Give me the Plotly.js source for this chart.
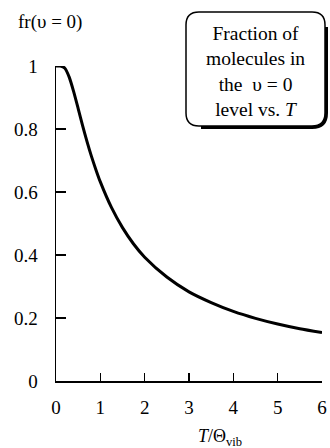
<!DOCTYPE html>
<html>
<head>
<meta charset="utf-8">
<script src="https://cdn.plot.ly/plotly-3.0.1.min.js"></script>
<style>
html,body{margin:0;padding:0;background:#fff;}
#chart{width:330px;height:448px;}
</style>
</head>
<body>
<div id="chart"></div>
<script>
// Data: T/Theta_vib vs fraction in v=0
var ratioT = [0, 0.1, 0.2, 0.3, 0.4, 0.5, 0.6, 0.7, 0.8, 0.9, 1.0, 1.25, 1.5, 1.75, 2.0, 2.5, 3.0, 3.5, 4.0, 4.5, 5.0, 5.5, 6.0];
var fracV0 = [1.0, 1.0, 0.993, 0.964, 0.918, 0.865, 0.811, 0.760, 0.713, 0.671, 0.632, 0.551, 0.487, 0.435, 0.393, 0.330, 0.283, 0.249, 0.221, 0.199, 0.181, 0.166, 0.154];
var xTicks = [0, 1, 2, 3, 4, 5, 6];
var yTicks = [0, 0.2, 0.4, 0.6, 0.8, 1];
var yTickText = ['0', '0.2', '0.4', '0.6', '0.8', '1'];

var W = 330, H = 448;
var M = {l: 56, r: 8, t: 66, b: 67};
var pw = W - M.l - M.r, ph = H - M.t - M.b;
function px(x){ return (x - M.l) / pw; }
function py(y){ return (H - M.b - y) / ph; }

var FONT = 'Liberation Serif, Times New Roman, serif';

// rounded box
var bx0 = 186, bx1 = 325, by0 = 12, by1 = 126, r = 13;
function roundedPath(x0, x1, y0, y1, rr){
  return 'M ' + px(x0 + rr) + ' ' + py(y0) +
    ' L ' + px(x1 - rr) + ' ' + py(y0) +
    ' Q ' + px(x1) + ' ' + py(y0) + ' ' + px(x1) + ' ' + py(y0 + rr) +
    ' L ' + px(x1) + ' ' + py(y1 - rr) +
    ' Q ' + px(x1) + ' ' + py(y1) + ' ' + px(x1 - rr) + ' ' + py(y1) +
    ' L ' + px(x0 + rr) + ' ' + py(y1) +
    ' Q ' + px(x0) + ' ' + py(y1) + ' ' + px(x0) + ' ' + py(y1 - rr) +
    ' L ' + px(x0) + ' ' + py(y0 + rr) +
    ' Q ' + px(x0) + ' ' + py(y0) + ' ' + px(x0 + rr) + ' ' + py(y0) + ' Z';
}
function shadowPath(x0, x1, y0, y1, rr, d){
  return 'M ' + px(x1 + d) + ' ' + py(y0 + rr + 2) +
    ' L ' + px(x1 + d) + ' ' + py(y1 - rr) +
    ' Q ' + px(x1 + d) + ' ' + py(y1 + d) + ' ' + px(x1 - rr) + ' ' + py(y1 + d) +
    ' L ' + px(x0 + rr + 2) + ' ' + py(y1 + d);
}

var data = [{
  x: ratioT, y: fracV0, type: 'scatter', mode: 'lines',
  line: {color: '#000', width: 3, shape: 'spline', smoothing: 0.6},
  hoverinfo: 'skip', cliponaxis: false
}];

var layout = {
  width: W, height: H,
  margin: M,
  paper_bgcolor: '#fff', plot_bgcolor: '#fff',
  showlegend: false,
  font: {family: FONT, size: 19, color: '#000'},
  xaxis: {
    range: [0, 6], tickvals: xTicks, ticktext: xTicks.map(String),
    showline: true, linecolor: '#000', linewidth: 1.5,
    ticks: 'inside', ticklen: 8, tickwidth: 1.2, tickcolor: '#000',
    ticklabelstandoff: 9,
    showgrid: false, zeroline: false, fixedrange: true,
    tickfont: {family: FONT, size: 19, color: '#000'}
  },
  yaxis: {
    range: [0, 1], tickvals: yTicks, ticktext: yTickText,
    showline: true, linecolor: '#000', linewidth: 1.5,
    ticks: 'inside', ticklen: 10, tickwidth: 1.2, tickcolor: '#000',
    ticklabelstandoff: 13,
    showgrid: false, zeroline: false, fixedrange: true,
    tickfont: {family: FONT, size: 19, color: '#000'}
  },
  shapes: [
    {type: 'path', xref: 'paper', yref: 'paper', path: roundedPath(bx0, bx1, by0, by1, r),
     line: {color: '#000', width: 1.5}, fillcolor: 'rgba(0,0,0,0)'},
    {type: 'path', xref: 'paper', yref: 'paper', path: shadowPath(bx0, bx1, by0, by1, r, 1.5),
     line: {color: '#000', width: 3}}
  ],
  annotations: [
    {xref: 'paper', yref: 'paper', x: px((bx0 + bx1) / 2), y: py((by0 + by1) / 2 + 2),
     xanchor: 'center', yanchor: 'middle', showarrow: false, align: 'center',
     text: 'Fraction of<br>molecules in<br>the  υ = 0<br>level vs. <i>T</i>',
     font: {family: FONT, size: 19.5, color: '#000'}},
    {xref: 'paper', yref: 'paper', x: px(16), y: py(22), xanchor: 'left', yanchor: 'middle',
     showarrow: false, text: 'fr(υ = 0)', font: {family: FONT, size: 19, color: '#000'}},
    {xref: 'paper', yref: 'paper', x: px(220), y: py(437), xanchor: 'center', yanchor: 'middle',
     showarrow: false, text: '<i>T</i>/Θ<sub>vib</sub>', font: {family: FONT, size: 18, color: '#000'}}
  ]
};

Plotly.newPlot('chart', data, layout, {displayModeBar: false, staticPlot: true});
</script>
</body>
</html>
